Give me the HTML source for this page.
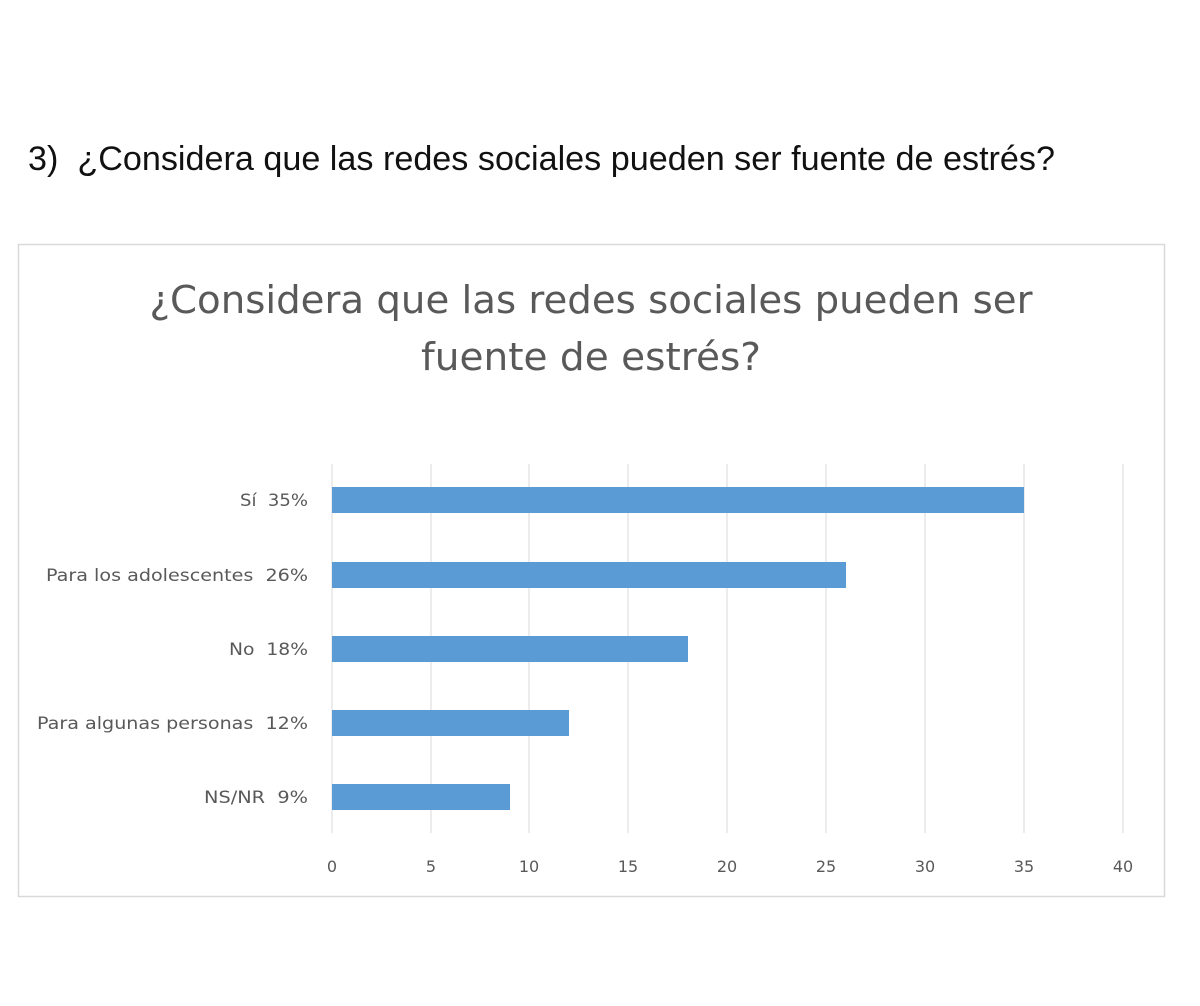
<!DOCTYPE html>
<html><head><meta charset="utf-8"><style>
html,body{margin:0;padding:0;background:#fff;}
svg{display:block;}
text{white-space:pre;}
</style></head><body>
<svg width="1200" height="1006" xmlns="http://www.w3.org/2000/svg" xml:space="preserve">
<rect width="1200" height="1006" fill="#fff"/>
<text x="28" y="170" font-family="Liberation Sans, sans-serif" font-size="34" fill="#111" textLength="1027" lengthAdjust="spacingAndGlyphs">3)  ¿Considera que las redes sociales pueden ser fuente de estrés?</text>
<rect x="18.5" y="244.5" width="1146" height="652" fill="#fff" stroke="#d9d9d9" stroke-width="1.5"/>
<g font-family="DejaVu Sans, Liberation Sans, sans-serif" fill="#595959" text-anchor="middle">
<text x="591" y="313" font-size="38" textLength="883" lengthAdjust="spacingAndGlyphs">¿Considera que las redes sociales pueden ser</text>
<text x="591" y="370" font-size="38" textLength="340" lengthAdjust="spacingAndGlyphs">fuente de estrés?</text>
</g>
<g stroke="#e0e0e0" stroke-width="1.2">
<line x1="332" y1="464" x2="332" y2="833"/>
<line x1="431" y1="464" x2="431" y2="833"/>
<line x1="529" y1="464" x2="529" y2="833"/>
<line x1="628" y1="464" x2="628" y2="833"/>
<line x1="727" y1="464" x2="727" y2="833"/>
<line x1="826" y1="464" x2="826" y2="833"/>
<line x1="925" y1="464" x2="925" y2="833"/>
<line x1="1024" y1="464" x2="1024" y2="833"/>
<line x1="1123" y1="464" x2="1123" y2="833"/>
</g>
<g fill="#5b9bd5">
<rect x="332" y="487" width="692" height="26"/>
<rect x="332" y="562" width="514" height="26"/>
<rect x="332" y="636" width="356" height="26"/>
<rect x="332" y="710" width="237" height="26"/>
<rect x="332" y="784" width="178" height="26"/>
</g>
<g font-family="DejaVu Sans, Liberation Sans, sans-serif" font-size="17" fill="#595959">
<text x="240" y="506" textLength="68" lengthAdjust="spacingAndGlyphs">Sí  35%</text>
<text x="46" y="581" textLength="262" lengthAdjust="spacingAndGlyphs">Para los adolescentes  26%</text>
<text x="229" y="655" textLength="79" lengthAdjust="spacingAndGlyphs">No  18%</text>
<text x="37" y="729" textLength="271" lengthAdjust="spacingAndGlyphs">Para algunas personas  12%</text>
<text x="204" y="803" textLength="104" lengthAdjust="spacingAndGlyphs">NS/NR  9%</text>
</g>
<g font-family="DejaVu Sans, Liberation Sans, sans-serif" font-size="16" fill="#595959" text-anchor="middle">
<text x="332" y="872">0</text><text x="431" y="872">5</text><text x="529" y="872">10</text>
<text x="628" y="872">15</text><text x="727" y="872">20</text><text x="826" y="872">25</text>
<text x="925" y="872">30</text><text x="1024" y="872">35</text><text x="1123" y="872">40</text>
</g>
</svg>
</body></html>
